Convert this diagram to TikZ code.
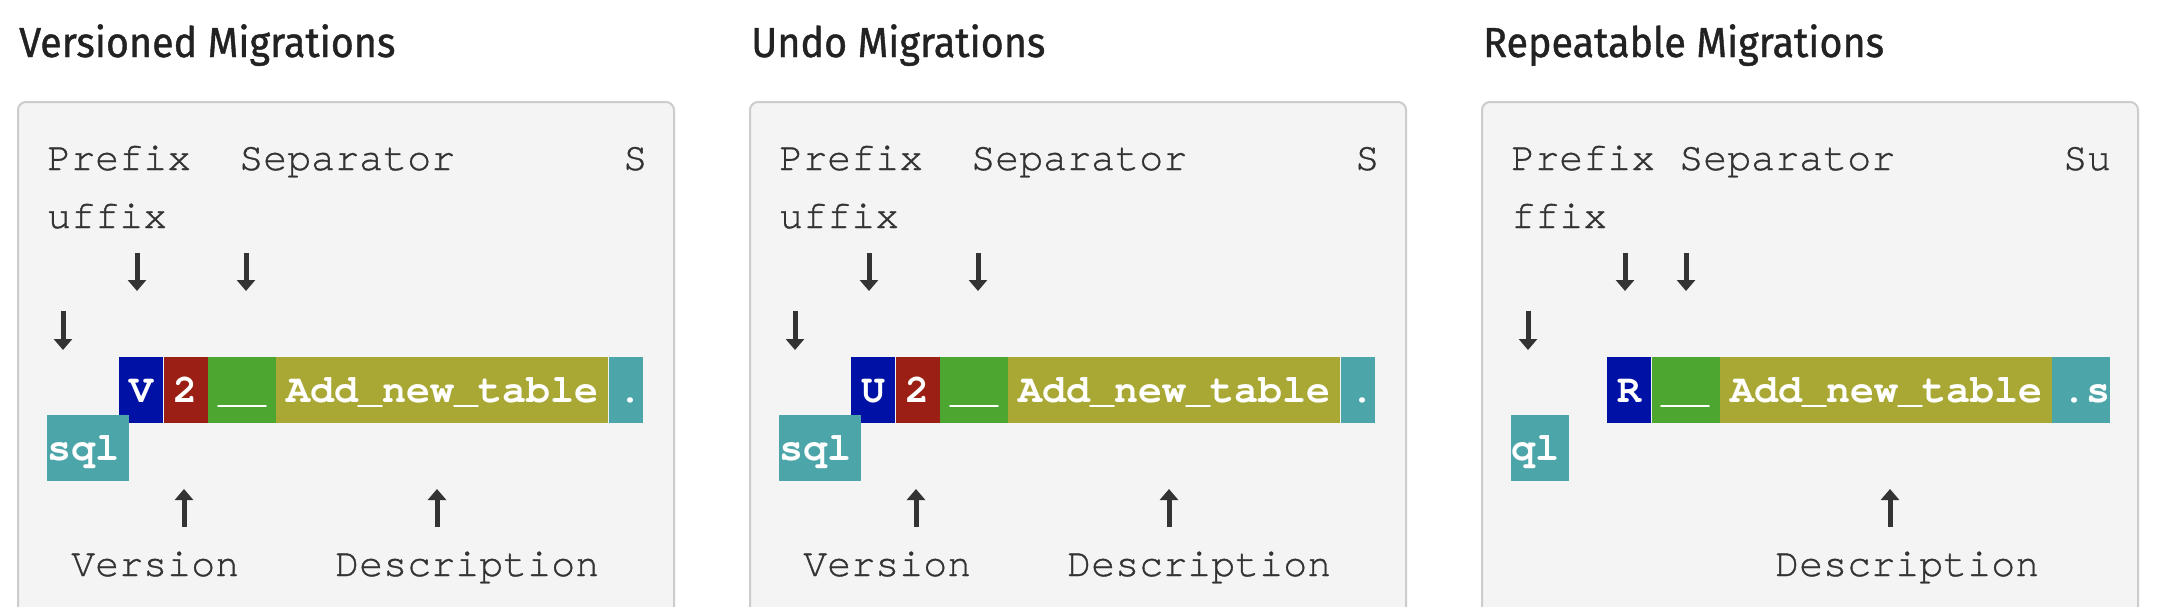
\documentclass[tikz,border=0pt]{standalone}
\usepackage{graphicx}
\usepackage{fontspec}
\setmonofont{TeX Gyre Cursor}[Ligatures=CommonOff]
\newfontfamily\lblfont{TeX Gyre Cursor}[Ligatures=CommonOff,FakeBold=0.8]
\newfontfamily\titlefont{Fira Sans}[FakeBold=1]
\usetikzlibrary{arrows.meta}
\definecolor{cblue}{RGB}{0,17,166}
\definecolor{cred}{RGB}{156,31,21}
\definecolor{cgreen}{RGB}{77,166,48}
\definecolor{colive}{RGB}{169,168,53}
\definecolor{cteal}{RGB}{76,166,169}
\definecolor{boxfill}{RGB}{244,244,244}
\definecolor{boxline}{RGB}{204,204,204}
\definecolor{ink}{RGB}{51,51,51}
\definecolor{titleink}{RGB}{34,34,34}
\newcommand\pd{\kern10pt}
\newcommand\ttl[1]{\scalebox{0.94}[1]{#1}}
\begin{document}
\begin{tikzpicture}[x=1pt,y=-1pt,
  title/.style={anchor=base west, inner sep=0, text=titleink, font=\titlefont\fontsize{42}{50}\selectfont},
  lbl/.style={anchor=base west, inner sep=0, text=ink, font=\lblfont\fontsize{40}{58}\selectfont},
  seg/.style={anchor=base west, inner sep=0, text height=45pt, text depth=21pt, text=white, font=\ttfamily\bfseries\fontsize{40}{58}\selectfont},
  panelbox/.style={fill=boxfill, draw=boxline, line width=2pt, rounded corners=8pt},
  arr/.style={draw=ink, line width=5pt, -{Triangle[width=18pt,length=11pt]}}]
\useasboundingbox (0,0) rectangle (2168,606);
\clip (0,0) rectangle (2168,606);
\fill[white] (0,0) rectangle (2168,606);
% ---------- Panel 1: Versioned ----------
\begin{scope}
\node[title] (a-title) at (19,57) {\ttl{Versioned Migrations}};
\draw[panelbox] (18,102) rectangle (674,680);
\node[lbl] (a-prefix) at (47,170) {Prefix};
\node[lbl] (a-sep) at (239,170) {Separator};
\node[lbl] (a-suf1) at (623,170) {S};
\node[lbl] (a-suf2) at (47,228) {uffix};
\coordinate (a-d1s) at (137,253); \coordinate (a-d1e) at (137,291);
\coordinate (a-d2s) at (246,253); \coordinate (a-d2e) at (246,291);
\coordinate (a-d3s) at (63,311);  \coordinate (a-d3e) at (63,350);
\draw[arr] (a-d1s) -- (a-d1e);
\draw[arr] (a-d2s) -- (a-d2e);
\draw[arr] (a-d3s) -- (a-d3e);
\node[seg, fill=cblue] (a-p) at (119,402) {\pd V\pd};
\node[seg, fill=cred] (a-v) at (a-p.base east) {\pd 2\pd};
\node[seg, fill=cgreen] (a-s) at (a-v.base east) {\pd\_\_\pd};
\node[seg, fill=colive] (a-d) at (a-s.base east) {\pd Add\_new\_table\pd};
\node[seg, fill=cteal] (a-x1) at (a-d.base east) {\pd.};
\node[seg, fill=cteal] (a-x2) at (47,460) {sql\pd};
\coordinate (a-u1s) at (184,527); \coordinate (a-u1e) at (184,489);
\coordinate (a-u2s) at (437,527); \coordinate (a-u2e) at (437,489);
\draw[arr] (a-u1s) -- (a-u1e);
\draw[arr] (a-u2s) -- (a-u2e);
\node[lbl] (a-ver) at (71,576) {Version};
\node[lbl] (a-desc) at (335,576) {Description};
\end{scope}
% ---------- Panel 2: Undo ----------
\begin{scope}[xshift=732pt]
\node[title] (b-title) at (19,57) {\ttl{Undo Migrations}};
\draw[panelbox] (18,102) rectangle (674,680);
\node[lbl] (b-prefix) at (47,170) {Prefix};
\node[lbl] (b-sep) at (239,170) {Separator};
\node[lbl] (b-suf1) at (623,170) {S};
\node[lbl] (b-suf2) at (47,228) {uffix};
\coordinate (b-d1s) at (137,253); \coordinate (b-d1e) at (137,291);
\coordinate (b-d2s) at (246,253); \coordinate (b-d2e) at (246,291);
\coordinate (b-d3s) at (63,311);  \coordinate (b-d3e) at (63,350);
\draw[arr] (b-d1s) -- (b-d1e);
\draw[arr] (b-d2s) -- (b-d2e);
\draw[arr] (b-d3s) -- (b-d3e);
\node[seg, fill=cblue] (b-p) at (119,402) {\pd U\pd};
\node[seg, fill=cred] (b-v) at (b-p.base east) {\pd 2\pd};
\node[seg, fill=cgreen] (b-s) at (b-v.base east) {\pd\_\_\pd};
\node[seg, fill=colive] (b-d) at (b-s.base east) {\pd Add\_new\_table\pd};
\node[seg, fill=cteal] (b-x1) at (b-d.base east) {\pd.};
\node[seg, fill=cteal] (b-x2) at (47,460) {sql\pd};
\coordinate (b-u1s) at (184,527); \coordinate (b-u1e) at (184,489);
\coordinate (b-u2s) at (437,527); \coordinate (b-u2e) at (437,489);
\draw[arr] (b-u1s) -- (b-u1e);
\draw[arr] (b-u2s) -- (b-u2e);
\node[lbl] (b-ver) at (71,576) {Version};
\node[lbl] (b-desc) at (335,576) {Description};
\end{scope}
% ---------- Panel 3: Repeatable ----------
\begin{scope}[xshift=1464pt]
\node[title] (c-title) at (19,57) {\ttl{Repeatable Migrations}};
\draw[panelbox] (18,102) rectangle (674,680);
\node[lbl] (c-prefix) at (47,170) {Prefix};
\node[lbl] (c-sep) at (215,170) {Separator};
\node[lbl] (c-suf1) at (599,170) {Su};
\node[lbl] (c-suf2) at (47,228) {ffix};
\coordinate (c-d1s) at (161,253); \coordinate (c-d1e) at (161,291);
\coordinate (c-d2s) at (222,253); \coordinate (c-d2e) at (222,291);
\coordinate (c-d3s) at (64,311);  \coordinate (c-d3e) at (64,350);
\draw[arr] (c-d1s) -- (c-d1e);
\draw[arr] (c-d2s) -- (c-d2e);
\draw[arr] (c-d3s) -- (c-d3e);
\node[seg, fill=cblue] (c-p) at (143,402) {\pd R\pd};
\node[seg, fill=cgreen] (c-s) at (c-p.base east) {\pd\_\_\pd};
\node[seg, fill=colive] (c-d) at (c-s.base east) {\pd Add\_new\_table\pd};
\node[seg, fill=cteal] (c-x1) at (c-d.base east) {\pd.s};
\node[seg, fill=cteal] (c-x2) at (47,460) {ql\pd};
\coordinate (c-u1s) at (426,527); \coordinate (c-u1e) at (426,489);
\draw[arr] (c-u1s) -- (c-u1e);
\node[lbl] (c-desc) at (311,576) {Description};
\end{scope}
\end{tikzpicture}
\end{document}
